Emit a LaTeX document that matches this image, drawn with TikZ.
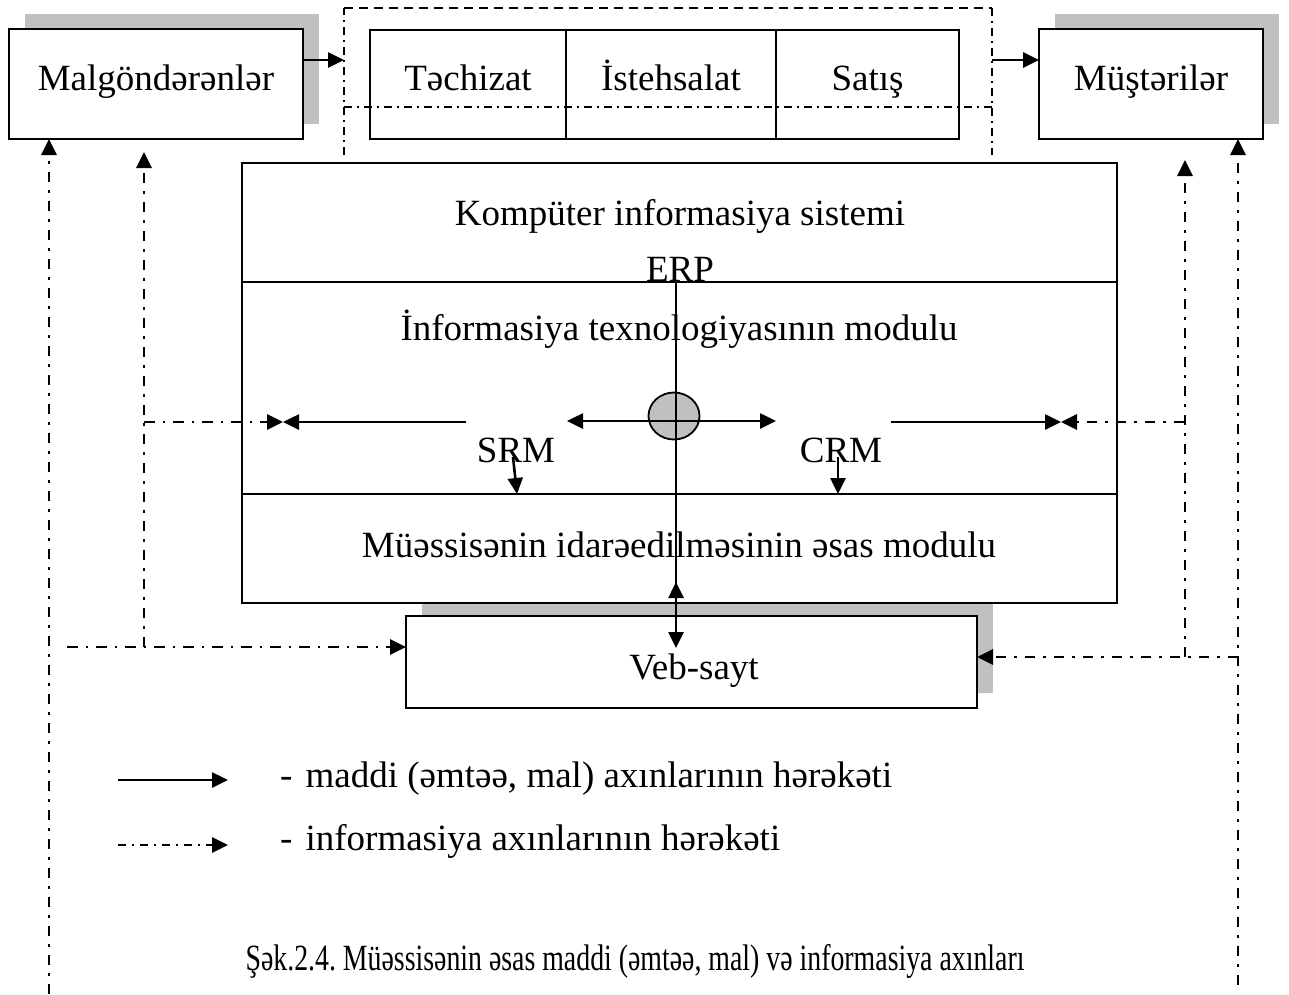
\documentclass[tikz,border=0pt]{standalone}
\usepackage{graphicx}
\usepackage{fontspec}
\setmainfont{Liberation Serif}
\usetikzlibrary{arrows.meta,backgrounds,shapes.geometric}
\definecolor{shgray}{HTML}{C0C0C0}
\frenchspacing
\begin{document}
\begin{tikzpicture}[x=1pt,y=-1pt,
  >={Triangle[length=16pt,width=15pt]},
  boxsty/.style={draw, fill=white, line width=1.8pt, inner sep=0pt, outer sep=0pt},
  lbl/.style={anchor=base, inner sep=0pt, outer sep=0pt, font=\fontsize{37}{44}\selectfont},
  lblw/.style={lbl, anchor=base west},
  mat/.style={line width=2.6pt, ->},
  info/.style={line width=2.8pt, dash pattern=on 10.5pt off 8pt on 2.5pt off 8pt, ->},
  frameside/.style={line width=1.5pt, dash pattern=on 8pt off 5pt on 2pt off 5pt},
  frametop/.style={line width=1.5pt, dash pattern=on 9pt off 6pt},
  shadowfill/.style={fill=shgray, draw=none}
]
\useasboundingbox (0,0) rectangle (1289,994);

% ---- outer partners ----
\node[boxsty, minimum width=294pt, minimum height=110pt] (malg) at (156,84) {};
\node[lbl] (malgT) at (156,90.7) {Malgöndərənlər};
\node[boxsty, minimum width=224pt, minimum height=110pt] (mus) at (1151,84) {};
\node[lbl] (musT) at (1151,90.7) {Müştərilər};

% ---- process chain ----
\node[boxsty, minimum width=196pt, minimum height=109pt] (tech) at (468,84.5) {};
\node[boxsty, minimum width=210pt, minimum height=109pt] (ist) at (671,84.5) {};
\node[boxsty, minimum width=183pt, minimum height=109pt] (sat) at (867.5,84.5) {};
\node[lbl] (techT) at (468,90.7) {Təchizat};
\node[lbl] (istT) at (671,90.7) {İstehsalat};
\node[lbl] (satT) at (867.5,90.7) {Satış};

% dashed frame around the chain (no bottom side)
\draw[frameside] (344,155) -- (344,8);
\draw[frameside] (992,8) -- (992,155);
\draw[frametop] (344,8) -- (992,8);
\draw[frameside] (344,107) -- (992,107);

% ---- web site ----
\node[boxsty, minimum width=571pt, minimum height=92pt] (veb) at (691.5,662) {};
\node[lbl] (vebT) at (694,679) {Veb-sayt};

% ---- information system ----
\node[boxsty, minimum width=875pt, minimum height=119pt] (kis) at (679.5,222.5) {};
\node[boxsty, minimum width=875pt, minimum height=212pt] (itm) at (679.5,388) {};
\node[boxsty, minimum width=875pt, minimum height=109pt] (esas) at (679.5,548.5) {};
\node[lbl] (kisT) at (680,225) {Kompüter informasiya sistemi};
\node[lbl] (itmT) at (679,340) {İnformasiya texnologiyasının modulu};
\node[lbl] (esasT) at (679,557) {Müəssisənin idarəedilməsinin əsas modulu};
\node[lbl] (erp) at (680,281.5) {ERP};
\node[lbl] (srm) at (516,462) {SRM};
\node[lbl] (crm) at (841,462) {CRM};

% drop shadows
\begin{scope}[on background layer]
  \fill[shadowfill] ([shift={(16pt,15pt)}]malg.south west) rectangle ([shift={(16pt,15pt)}]malg.north east);
  \fill[shadowfill] ([shift={(16pt,15pt)}]mus.south west) rectangle ([shift={(16pt,15pt)}]mus.north east);
  \fill[shadowfill] ([shift={(16pt,15pt)}]veb.south west) rectangle ([shift={(16pt,15pt)}]veb.north east);
\end{scope}

% ---- connector end points ----
\coordinate (pin) at (344,60);
\coordinate (pout) at (992,60);
\coordinate (lv1) at (49,994);
\coordinate (lv2) at (144,647);
\coordinate (lv2top) at (144,152);
\coordinate (lh) at (67,647);
\coordinate (lmid) at (144,422);
\coordinate (ltip) at (283,422);
\coordinate (srmstart) at (466,422);
\coordinate (hl) at (567,421);
\coordinate (hr) at (776,421);
\coordinate (crmstart) at (891,422);
\coordinate (rtip) at (1061,422);
\coordinate (rmid) at (1184,422);
\coordinate (rv1) at (1185,657);
\coordinate (rv1top) at (1185,160);
\coordinate (rv2) at (1238,985);
\coordinate (rh) at (1238,657);
\coordinate (erptop) at (676,282);
\coordinate (erpbot) at (676,648);
\coordinate (upfrom) at (676,600);
\coordinate (uptip) at (676,582);
\coordinate (srmA) at (513,457);
\coordinate (srmB) at (517,494);
\coordinate (crmA) at (838,457);
\coordinate (crmB) at (838,494);

% material flows along the chain
\draw[mat] (malg.east |- pin) -- (pin);
\draw[mat] (pout) -- (mus.west |- pout);

% ERP hub
\node[ellipse, draw, line width=1.8pt, fill=shgray, minimum width=51pt, minimum height=47pt, inner sep=0pt] (hub) at (674,416) {};
\draw[line width=2.6pt, <->] (hl) -- (hr);
\draw[mat] (erptop) -- (erpbot);
\draw[mat] (upfrom) -- (uptip);
\draw[mat] (srmstart) -- (ltip);
\draw[mat] (crmstart) -- (rtip);
\draw[mat] (srmA) -- (srmB);
\draw[mat] (crmA) -- (crmB);

% information flows, left side
\draw[info] (lv1) -- (lv1 |- malg.south);
\draw[info] (lv2) -- (lv2top);
\draw[info] (lmid) -- (ltip);
\draw[info] (lh) -- (veb.west |- lh);

% information flows, right side
\draw[info] (rv2) -- (rv2 |- mus.south);
\draw[info] (rv1) -- (rv1top);
\draw[info] (rmid) -- (rtip);
\draw[info] (rh) -- (veb.east |- rh);

% ---- legend ----
\coordinate (lgA) at (118,780);
\coordinate (lgB) at (228,780);
\coordinate (lgC) at (118,845);
\coordinate (lgD) at (228,845);
\draw[mat] (lgA) -- (lgB);
\draw[info, dash pattern=on 8pt off 6pt on 2pt off 6pt] (lgC) -- (lgD);
\node[lblw] (lg1) at (280,787) {- \hspace{4pt}maddi (əmtəə, mal) axınlarının hərəkəti};
\node[lblw] (lg2) at (280,850) {- \hspace{4pt}informasiya axınlarının hərəkəti};

% ---- caption (condensed type) ----
\node[lbl] (cap) at (635,970) {\scalebox{0.752}[1]{Şək.2.4. Müəssisənin əsas maddi (əmtəə, mal) və informasiya axınları}};
\end{tikzpicture}
\end{document}
